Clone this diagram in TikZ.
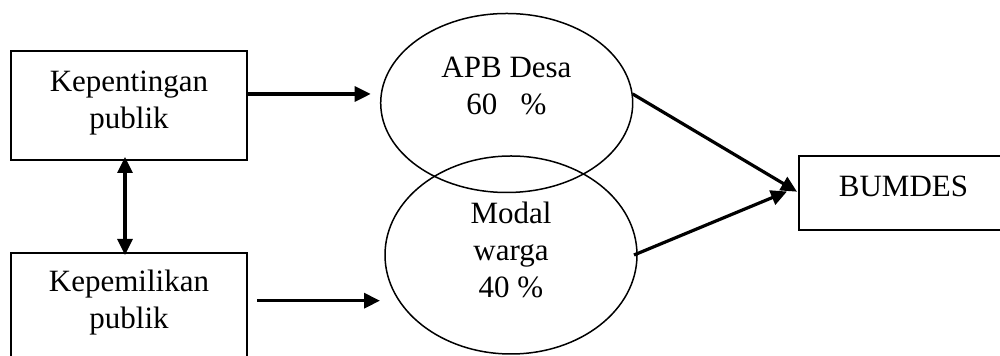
\documentclass[tikz,border=0pt]{standalone}
\usepackage{fontspec}
\setmainfont{Liberation Serif}
\usetikzlibrary{shapes.geometric,arrows.meta,calc}
\begin{document}
\begin{tikzpicture}[x=0.5pt,y=-0.5pt,
  boxshape/.style={draw,line width=1pt,rectangle,inner sep=0pt,outer sep=0pt},
  ellshape/.style={draw,line width=0.75pt,ellipse,inner sep=0pt,outer sep=0pt,minimum width=126pt},
  txt/.style={align=center,inner sep=0pt,font=\fontsize{15.5}{18.5}\selectfont},
  arr/.style={line width=1.6pt,-{Triangle[length=8pt,width=7.5pt]}},
  darr/.style={line width=1.6pt,{Triangle[length=8pt,width=7.5pt]}-{Triangle[length=8pt,width=7.5pt]}}]
\clip (0,0) rectangle (1000,356);
\fill[white] (0,0) rectangle (1000,356);
% shapes
\node[boxshape,minimum width=118pt,minimum height=54.5pt] (b1) at (129,105.5) {};
\node[boxshape,minimum width=118pt,minimum height=73pt] (b2) at (129,326) {};
\node[ellshape,minimum height=89.5pt] (e1) at (506.7,103) {};
\node[ellshape,minimum height=99pt] (e2) at (511,255) {};
\node[boxshape,minimum width=105.5pt,minimum height=37pt] (bm) at (904.5,193) {};
% texts
\node[txt] (t1) at (129,103.3) {Kepentingan\\publik};
\node[txt] (t2) at (129,302.6) {Kepemilikan\\publik};
\node[txt] (t3) at (506.5,85.6) {APB Desa\\60~~~\%};
\node[txt] (t4) at (511,249.9) {Modal\\warga\\40 \%};
\node[txt,anchor=base] (t5) at (903.5,196.7) {BUMDES};
% connectors
\coordinate (p1) at ($(e1.west)+(-10,-9)$);
\coordinate (p2) at ($(e2.west)+(-5,45.7)$);
\draw[arr] (b1.east |- p1) -- (p1);
\draw[arr] ($(b2.east |- p2)+(10,0)$) -- (p2);
\draw[darr] ($(b1.south)+(-4,-3)$) -- ($(b2.north)+(-4,2)$);
\draw[arr] ($(e1.east)+(0,-9)$) -- ($(bm.west)+(-2,-1.3)$);
\draw[arr] ($(e2.east)+(-3,0)$) -- ($(bm.west)+(-12,-1.5)$);
\end{tikzpicture}
\end{document}
